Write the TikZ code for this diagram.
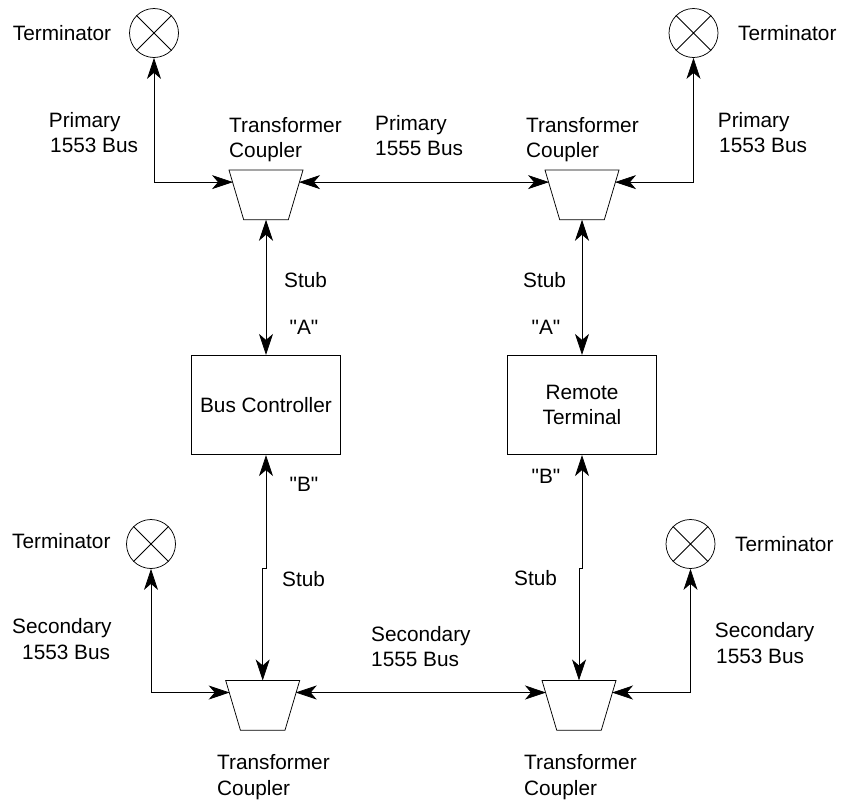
\documentclass[tikz,border=0pt]{standalone}
\usepackage{fontspec}
\setmainfont{Liberation Sans}[Ligatures=TeXOff]
\usetikzlibrary{arrows.meta}
\begin{document}
\begin{tikzpicture}[x=1pt,y=-1pt,
  tipa/.tip={Stealth[length=21pt,width=14pt,inset=6pt]},
  bi/.style={draw=black,line width=0.75pt,tipa-tipa},
  boxn/.style={draw,line width=0.75pt,minimum width=149pt,minimum height=99.4pt,inner sep=0pt,align=center},
  term/.style={circle,draw,line width=0.75pt,minimum size=49pt,inner sep=0pt},
  coup/.style={draw,line width=0.75pt,line join=miter},
  lab/.style={font=\fontsize{20.8pt}{25.6pt}\selectfont,align=left,inner sep=0pt,anchor=west},
  labc/.style={font=\fontsize{20.8pt}{25.6pt}\selectfont,align=center,inner sep=0pt}]
\useasboundingbox (0,0) rectangle (846,801);
% terminators
\foreach \n/\x/\y in {t1/154/33,t2/693.5/33,t3/151/544,t4/690.5/544}{
  \node[term] (\n) at (\x,\y) {};
  \draw[line width=0.75pt] (\n.45) -- (\n.225) (\n.135) -- (\n.315);
}
% couplers
\foreach \n/\x/\y in {c1/266/194.9,c2/582/194.9,c3/262.7/705.3,c4/579/705.3}{
  \draw[coup] (\x-37,\y-24.85) -- (\x+37,\y-24.85) -- (\x+22.3,\y+24.85) -- (\x-22.3,\y+24.85) -- cycle;
  \coordinate (\n-l) at (\x-33,\y-12.8);
  \coordinate (\n-r) at (\x+33,\y-12.8);
  \coordinate (\n-t) at (\x,\y-24.85);
  \coordinate (\n-b) at (\x,\y+24.85);
}
\node[boxn,labc] (bc) at (266,403.5) [minimum height=99.4pt,yshift=-1.5pt] {Bus Controller};
\node[boxn,labc] (rt) at (582,405) {Remote\\Terminal};
\coordinate (j1) at (262.7,568);
\coordinate (j2) at (579,568);
% connectors
\draw[bi] (t1.south) |- (c1-l);
\draw[bi] (c1-r) -- (c2-l);
\draw[bi] (t2.south) |- (c2-r);
\draw[bi] (c1-b) -- (bc.north);
\draw[bi] (c2-b) -- (rt.north);
\draw[bi] (bc.south) |- (j1) -- (c3-t);
\draw[bi] (rt.south) |- (j2) -- (c4-t);
\draw[bi] (t3.south) |- (c3-l);
\draw[bi] (c3-r) -- (c4-l);
\draw[bi] (t4.south) |- (c4-r);
% labels
\node[lab] (l1) at (12.7,33) {Terminator};
\node[lab] (l2) at (738,33) {Terminator};
\node[lab] (l3) at (12,541) {Terminator};
\node[lab] (l4) at (735,544) {Terminator};
\node[lab] (l5) at (48.7,132.5) {Primary\\\hspace*{1.3pt}1553 Bus};
\node[lab] (l6) at (717.7,132.5) {Primary\\\hspace*{1.3pt}1553 Bus};
\node[lab] (l7) at (12,639) {Secondary\\\hspace*{10pt}1553 Bus};
\node[lab] (l8) at (714.7,643) {Secondary\\\hspace*{1.3pt}1553 Bus};
\node[lab] (l9) at (229,139.5) {Transformer\\Coupler};
\node[lab] (l10) at (526,139.5) {Transformer\\Coupler};
\node[lab] (l11) at (217,777) {Transformer\\Coupler};
\node[lab] (l12) at (524,777) {Transformer\\Coupler};
\node[lab] (l13) at (375,135.5) {Primary\\1555 Bus};
\node[lab] (l14) at (371,646.5) {Secondary\\1555 Bus};
\node[lab] (s1) at (284,280) {Stub};
\node[lab] (s2) at (523,280) {Stub};
\node[lab] (s3) at (282,579) {Stub};
\node[lab] (s4) at (514,578.5) {Stub};
\node[labc] (a1) at (304,327) {"A"};
\node[labc] (a2) at (546,327) {"A"};
\node[labc] (b1) at (304,484) {"B"};
\node[labc] (b2) at (546,476) {"B"};
\end{tikzpicture}
\end{document}
